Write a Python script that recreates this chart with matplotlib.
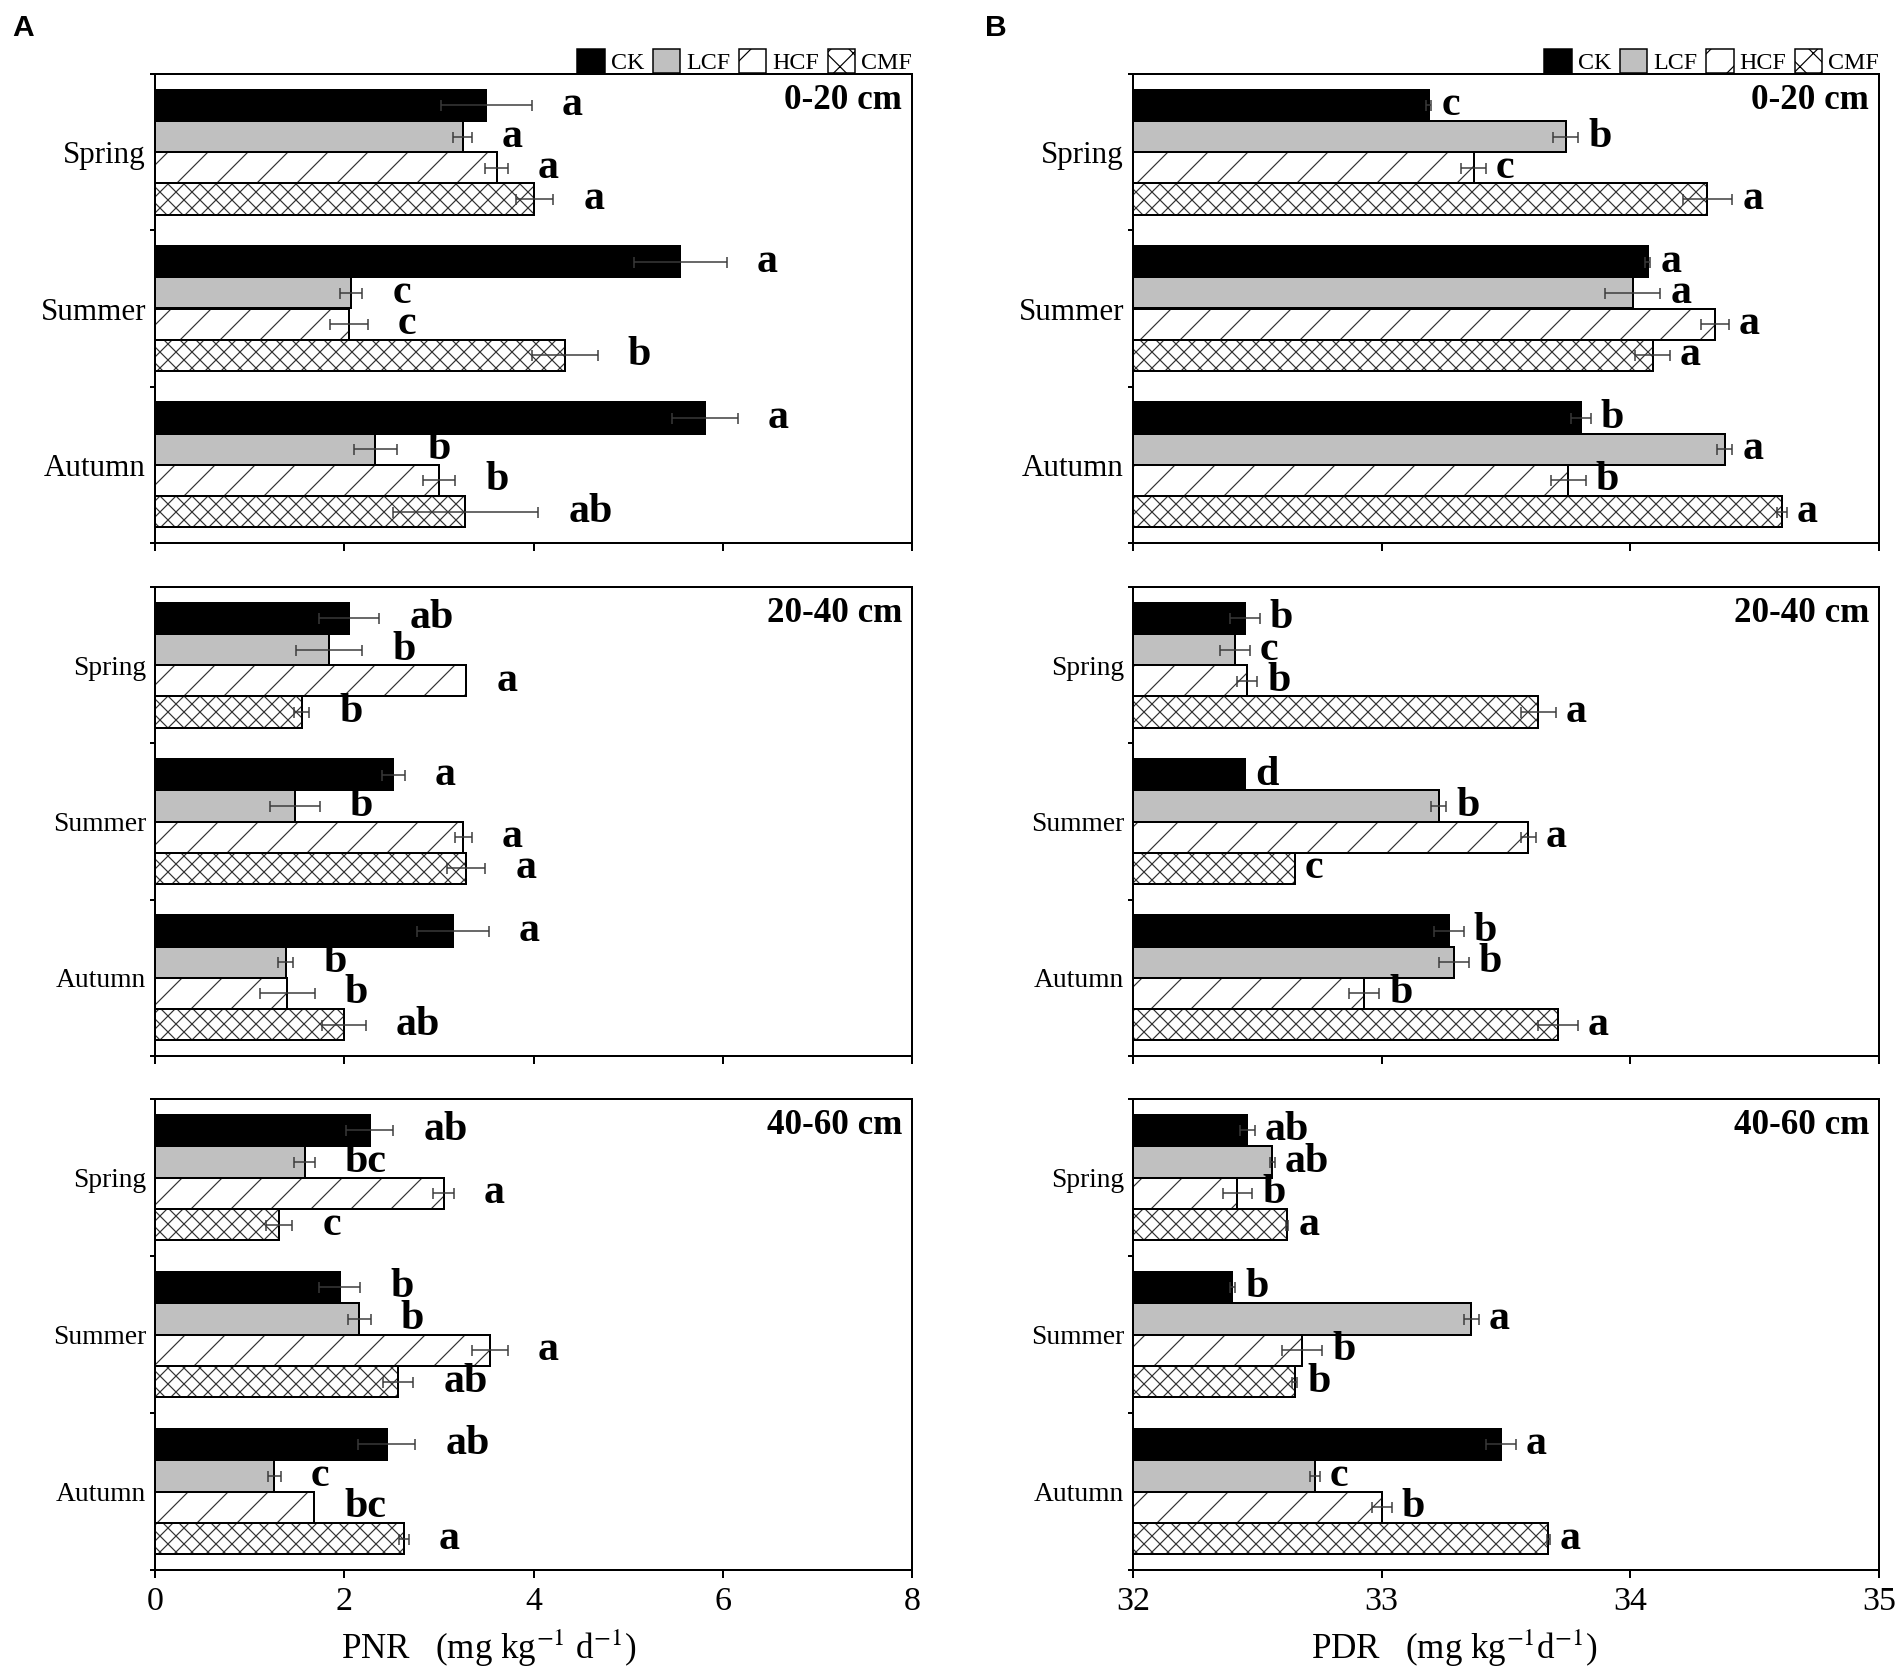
import matplotlib
matplotlib.use('Agg')
import matplotlib.pyplot as plt
from matplotlib.patches import Patch
import numpy as np

DPI = 480
W, H = 1904, 1675


def pt(px):
    return px * 72.0 / DPI


plt.rcParams['font.family'] = ['Liberation Serif', 'DejaVu Serif']
plt.rcParams['mathtext.fontset'] = 'stix'
plt.rcParams['hatch.linewidth'] = pt(1.2)
plt.rcParams['axes.linewidth'] = pt(2)

# ---------------- data ----------------
seasons = ['Spring', 'Summer', 'Autumn']
treatments = ['CK', 'LCF', 'HCF', 'CMF']
depths = ['0-20 cm', '20-40 cm', '40-60 cm']

# PNR (mg kg-1 d-1): rows = seasons, cols = treatments
pnr_0_20 = [[3.50, 3.25, 3.61, 4.01], [5.55, 2.07, 2.05, 4.33], [5.81, 2.33, 3.00, 3.28]]
pnr_0_20_err = [[0.48, 0.10, 0.12, 0.20], [0.49, 0.12, 0.20, 0.35], [0.35, 0.23, 0.17, 0.77]]
pnr_0_20_let = [['a', 'a', 'a', 'a'], ['a', 'c', 'c', 'b'], ['a', 'b', 'b', 'ab']]

pnr_20_40 = [[2.05, 1.84, 3.29, 1.55], [2.52, 1.48, 3.26, 3.29], [3.15, 1.38, 1.40, 2.00]]
pnr_20_40_err = [[0.32, 0.35, 0.0, 0.08], [0.12, 0.26, 0.09, 0.20], [0.38, 0.08, 0.29, 0.23]]
pnr_20_40_let = [['ab', 'b', 'a', 'b'], ['a', 'b', 'a', 'a'], ['a', 'b', 'b', 'ab']]

pnr_40_60 = [[2.27, 1.58, 3.05, 1.31], [1.95, 2.16, 3.54, 2.57], [2.45, 1.26, 1.68, 2.63]]
pnr_40_60_err = [[0.25, 0.11, 0.11, 0.14], [0.22, 0.12, 0.19, 0.16], [0.30, 0.07, 0.0, 0.05]]
pnr_40_60_let = [['ab', 'bc', 'a', 'c'], ['b', 'b', 'a', 'ab'], ['ab', 'c', 'bc', 'a']]

# PDR (mg kg-1 d-1)
pdr_0_20 = [[33.19, 33.74, 33.37, 34.31], [34.07, 34.01, 34.34, 34.09], [33.80, 34.38, 33.75, 34.61]]
pdr_0_20_err = [[0.01, 0.05, 0.05, 0.10], [0.01, 0.11, 0.055, 0.07], [0.04, 0.03, 0.07, 0.02]]
pdr_0_20_let = [['c', 'b', 'c', 'a'], ['a', 'a', 'a', 'a'], ['b', 'a', 'b', 'a']]

pdr_20_40 = [[32.45, 32.41, 32.46, 33.63], [32.45, 33.23, 33.59, 32.65], [33.27, 33.29, 32.93, 33.71]]
pdr_20_40_err = [[0.06, 0.06, 0.04, 0.07], [0.0, 0.03, 0.03, 0.0], [0.06, 0.06, 0.06, 0.08]]
pdr_20_40_let = [['b', 'c', 'b', 'a'], ['d', 'b', 'a', 'c'], ['b', 'b', 'b', 'a']]

pdr_40_60 = [[32.46, 32.56, 32.42, 32.62], [32.40, 33.36, 32.68, 32.65], [33.48, 32.73, 33.00, 33.67]]
pdr_40_60_err = [[0.03, 0.01, 0.06, 0.005], [0.01, 0.03, 0.08, 0.01], [0.06, 0.02, 0.04, 0.005]]
pdr_40_60_let = [['ab', 'ab', 'b', 'a'], ['b', 'a', 'b', 'b'], ['a', 'c', 'b', 'a']]

pnr_xticks = [0, 2, 4, 6, 8]
pdr_xticks = [32, 33, 34, 35]

# ---------------- styles ----------------
bar_styles = [
    dict(fc='black', hatch=None),
    dict(fc='#c0c0c0', hatch=None),
    dict(fc='white', hatch='////'),
    dict(fc='white', hatch='xxxxxxxxxx'),
]
legend_hatch = [None, None, '////', 'xxxxxx']
HATCH_C = '#333333'
ERR_C = '#3a3a3a'

fig = plt.figure(figsize=(W / DPI, H / DPI), dpi=DPI)
colx = [(155, 912), (1133, 1879)]
rowy = [(74, 543), (587, 1056), (1099, 1570)]


def add_ax(c, r):
    x0, x1 = colx[c]
    y0, y1 = rowy[r]
    return fig.add_axes([x0 / W, 1 - y1 / H, (x1 - x0) / W, (y1 - y0) / H])


def draw(ax, c, r, vals, errs, lets, base, xticks, letter_off_px):
    vals = np.asarray(vals, dtype=float)
    errs = np.asarray(errs, dtype=float)
    for g in range(len(seasons)):
        for j in range(len(treatments)):
            y = g * 5 + 1 + j
            st = bar_styles[j]
            w = vals[g, j] - base
            if st['hatch']:
                ax.barh(y, w, height=1, left=base, color='white', edgecolor=HATCH_C,
                        linewidth=0, hatch=st['hatch'], zorder=2)
                ax.barh(y, w, height=1, left=base, facecolor='none', edgecolor='black',
                        linewidth=pt(2), zorder=3)
            else:
                ax.barh(y, w, height=1, left=base, color=st['fc'], edgecolor='black',
                        linewidth=pt(2), zorder=2)
            if errs[g, j] > 0:
                ax.errorbar(vals[g, j], y, xerr=errs[g, j], fmt='none', ecolor=ERR_C,
                            elinewidth=pt(1.5), capsize=pt(11) / 2, capthick=pt(1.5), zorder=4)
            ax.annotate(lets[g][j], xy=(vals[g, j] + errs[g, j], y),
                        xytext=(pt(letter_off_px), 0), textcoords='offset points',
                        ha='left', va='center', fontsize=pt(42), fontweight='bold', zorder=5)
    ax.set_xlim(xticks[0], xticks[-1])
    ax.set_xticks(xticks)
    ax.set_xticklabels([str(t) for t in xticks])
    ax.tick_params(axis='x', length=pt(8), width=pt(2), direction='out', pad=pt(9),
                   labelsize=pt(34), labelbottom=(r == 2))
    ax.set_ylim(15, 0)
    ax.set_yticks([2.5, 7.5, 12.5])
    ax.set_yticklabels(seasons, fontsize=pt(31 if r == 0 else 27.5))
    ax.tick_params(axis='y', which='major', length=0, pad=pt(9))
    ax.set_yticks([0, 5, 10, 15], minor=True)
    ax.tick_params(axis='y', which='minor', length=pt(5), width=pt(2), direction='out')
    x0, x1 = colx[c]
    y0, y1 = rowy[r]
    ax.text(1 - 10 / (x1 - x0), 1 - 10 / (y1 - y0), depths[r], transform=ax.transAxes,
            ha='right', va='top', fontsize=pt(35), fontweight='bold')
    if r == 0:
        handles = [Patch(facecolor=bar_styles[j]['fc'], edgecolor='black', linewidth=pt(1.5),
                         hatch=legend_hatch[j]) for j in range(len(treatments))]
        ax.legend(handles, treatments, loc='lower right', bbox_to_anchor=(1.0, 1.0),
                  borderaxespad=0, borderpad=0, frameon=False, ncol=4,
                  fontsize=pt(24), handlelength=1.15, handleheight=1.2,
                  handletextpad=0.25, columnspacing=0.35)


pnr_sets = [(pnr_0_20, pnr_0_20_err, pnr_0_20_let),
            (pnr_20_40, pnr_20_40_err, pnr_20_40_let),
            (pnr_40_60, pnr_40_60_err, pnr_40_60_let)]
pdr_sets = [(pdr_0_20, pdr_0_20_err, pdr_0_20_let),
            (pdr_20_40, pdr_20_40_err, pdr_20_40_let),
            (pdr_40_60, pdr_40_60_err, pdr_40_60_let)]

for r in range(3):
    axA = add_ax(0, r)
    v, e, l = pnr_sets[r]
    draw(axA, 0, r, v, e, l, 0, pnr_xticks, 30)
    axB = add_ax(1, r)
    v, e, l = pdr_sets[r]
    draw(axB, 1, r, v, e, l, pdr_xticks[0], pdr_xticks, 10)
    if r == 2:
        hA = rowy[2][1] - rowy[2][0]
        axA.text(0.441, -89 / hA, r'PNR   (mg kg$^{-1}$ d$^{-1}$)', transform=axA.transAxes,
                 ha='center', va='baseline', fontsize=pt(35))
        axB.text(0.430, -89 / hA, r'PDR   (mg kg$^{-1}$d$^{-1}$)', transform=axB.transAxes,
                 ha='center', va='baseline', fontsize=pt(35))

fig.text(12 / W, 1 - 14 / H, 'A', ha='left', va='top', fontsize=pt(30), fontweight='bold',
         family=['Liberation Sans', 'DejaVu Sans'])
fig.text(985 / W, 1 - 14 / H, 'B', ha='left', va='top', fontsize=pt(30), fontweight='bold',
         family=['Liberation Sans', 'DejaVu Sans'])

fig.savefig('out.png', dpi=DPI)
